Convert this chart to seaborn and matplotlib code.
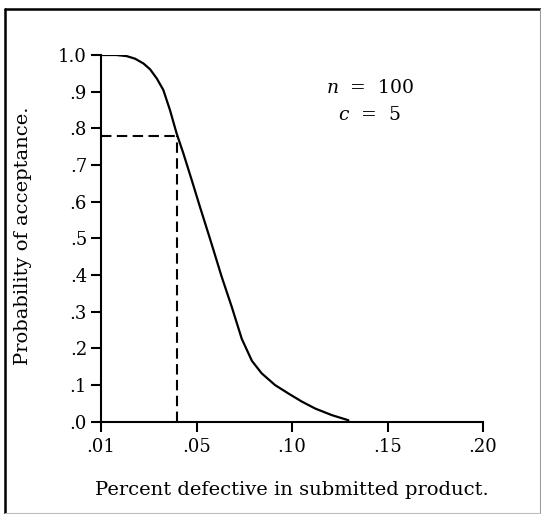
import matplotlib
matplotlib.use("Agg")
import matplotlib.pyplot as plt
from matplotlib.lines import Line2D
import seaborn as sns
import pandas as pd

# Operating characteristic curve, n = 100, c = 5
defective = [0.000, 0.008, 0.0134, 0.0178, 0.0222, 0.0257, 0.0292, 0.0326, 0.0361,
             0.0396, 0.0431, 0.0475, 0.0518, 0.0573, 0.0632, 0.0684, 0.0737, 0.0790,
             0.0841, 0.0911, 0.0981, 0.1051, 0.1121, 0.1208, 0.1295]
acceptance = [1.000, 1.000, 0.997, 0.990, 0.977, 0.961, 0.936, 0.905, 0.850,
              0.786, 0.732, 0.659, 0.586, 0.495, 0.395, 0.314, 0.226, 0.166,
              0.132, 0.100, 0.077, 0.055, 0.036, 0.018, 0.004]

# reference point marked with dashed lines
ref_p = 0.040
ref_pa = 0.78

x_ticks = [0.00, 0.05, 0.10, 0.15, 0.20]
x_tick_labels = [".01", ".05", ".10", ".15", ".20"]
y_ticks = [0.0, 0.1, 0.2, 0.3, 0.4, 0.5, 0.6, 0.7, 0.8, 0.9, 1.0]
y_tick_labels = [".0", ".1", ".2", ".3", ".4", ".5", ".6", ".7", ".8", ".9", "1.0"]

sns.set_theme(style="white")
plt.rcParams["font.family"] = ["DejaVu Serif"]
plt.rcParams["mathtext.fontset"] = "dejavuserif"
plt.rcParams["text.color"] = "black"

W, H = 541, 514
fig = plt.figure(figsize=(W / 100, H / 100), dpi=100)
ax = fig.add_axes([101 / W, 1 - 421.7 / H, (483 - 101) / W, (421.7 - 55) / H])

df = pd.DataFrame({"p": defective, "pa": acceptance})
sns.lineplot(data=df, x="p", y="pa", ax=ax, color="black", lw=1.6, sort=False,
             solid_joinstyle="round", solid_capstyle="round")

dash = (0, (5, 2.6))
ax.plot([0, ref_p], [ref_pa, ref_pa], color="black", lw=1.5, linestyle=dash)
ax.plot([ref_p, ref_p], [0, ref_pa], color="black", lw=1.5, linestyle=dash)

ax.set_xlim(0, 0.2)
ax.set_ylim(0, 1.0)
ax.set_xticks(x_ticks)
ax.set_xticklabels(x_tick_labels)
ax.set_yticks(y_ticks)
ax.set_yticklabels(y_tick_labels)
for s in ["top", "right"]:
    ax.spines[s].set_visible(False)
for s in ["left", "bottom"]:
    ax.spines[s].set_color("black")
    ax.spines[s].set_linewidth(1.5)
ax.tick_params(axis="both", direction="out", length=7, width=1.5, color="black",
               labelsize=13, labelcolor="black", bottom=True, left=True)
ax.tick_params(axis="x", pad=5)
ax.tick_params(axis="y", pad=3)
ax.set_xlabel("")
ax.set_ylabel("")
ax.set_facecolor("white")

fig.text(292 / W, 1 - 490 / H, "Percent defective in submitted product.",
         ha="center", va="center", fontsize=14, color="black")
fig.text(23 / W, 1 - 236 / H, "Probability of acceptance.", rotation=90,
         ha="center", va="center", fontsize=14, color="black")

fig.text(370 / W, 1 - 88 / H, r"$n$  =  100", ha="center", va="center", fontsize=13.5,
         color="black")
fig.text(369 / W, 1 - 115 / H, r"$c$  =  5", ha="center", va="center", fontsize=13.5,
         color="black")

# frame around the figure
fig.add_artist(Line2D([5 / W, 5 / W], [1 - 513 / H, 1 - 9 / H], transform=fig.transFigure,
                      color="black", lw=1.8))
fig.add_artist(Line2D([5 / W, 540 / W], [1 - 9 / H, 1 - 9 / H], transform=fig.transFigure,
                      color="black", lw=1.8))
fig.add_artist(Line2D([540 / W, 540 / W], [1 - 513 / H, 1 - 9 / H], transform=fig.transFigure,
                      color="#999999", lw=0.8))
fig.add_artist(Line2D([5 / W, 540 / W], [1 - 512.5 / H, 1 - 512.5 / H], transform=fig.transFigure,
                      color="#bbbbbb", lw=0.8))

fig.savefig("out.png", dpi=100, facecolor="white")
